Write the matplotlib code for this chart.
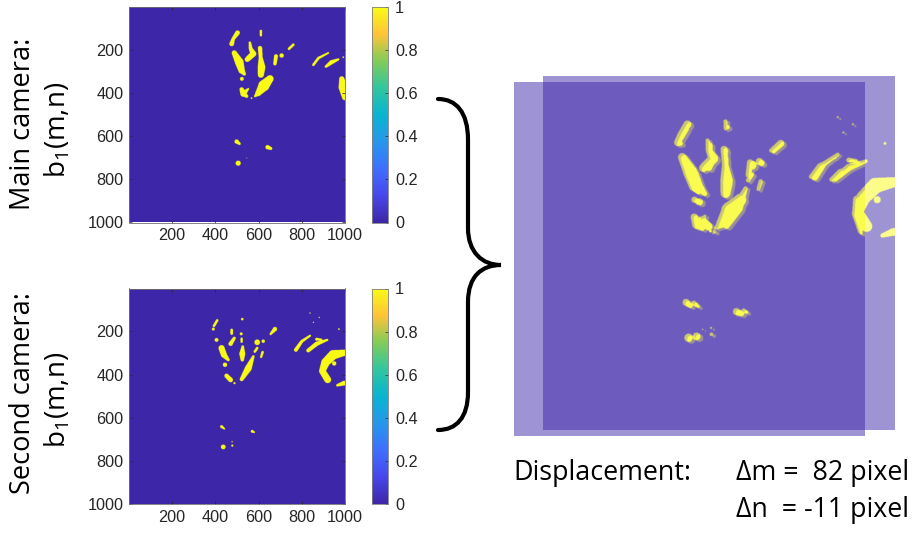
import numpy as np
import matplotlib
matplotlib.use('Agg')
import matplotlib.pyplot as plt
from matplotlib.colors import LinearSegmentedColormap
from matplotlib.path import Path
from matplotlib.patches import PathPatch

W, H = 915, 533
plt.rcParams['mathtext.default'] = 'regular'

tick_values = [200, 400, 600, 800, 1000]
cbar_ticks = [0, 0.2, 0.4, 0.6, 0.8, 1]
cbar_labels = ['0', '0.2', '0.4', '0.6', '0.8', '1']

# Bright regions of each binary map, each a chain of (m, n, radius)
main_blobs = [
    [(503, 125, 11), (483, 153, 8), (476, 176, 11)],
    [(611, 117, 6), (611, 137, 5)],
    [(488, 218, 12), (511, 261, 20), (522, 299, 15), (534, 315, 8)],
    [(523, 338, 9)],
    [(560, 171, 6), (564, 199, 9), (576, 222, 14), (548, 248, 12)],
    [(607, 196, 10), (610, 238, 9), (614, 284, 18), (611, 319, 14)],
    [(653, 338, 17), (625, 369, 26), (599, 404, 14), (584, 418, 5)],
    [(522, 387, 10), (530, 407, 14), (553, 384, 4)],
    [(530, 407, 12), (545, 418, 8)],
    [(568, 427, 4)],
    [(707, 230, 10)],
    [(681, 233, 9), (676, 268, 8)],
    [(761, 180, 6), (741, 199, 6)],
    [(923, 218, 4), (877, 242, 6), (854, 273, 6)],
    [(969, 248, 5), (938, 261, 10), (912, 281, 6)],
    [(992, 238, 4)],
    [(985, 338, 12), (992, 376, 22), (1000, 423, 14)],
    [(499, 628, 10), (512, 638, 6)],
    [(642, 654, 10), (657, 660, 7)],
    [(506, 728, 12)],
    [(546, 704, 2)],
]
second_blobs = [
    [(409, 151, 6), (394, 176, 6)],
    [(391, 191, 7)],
    [(525, 145, 6)],
    [(476, 195, 6), (476, 212, 6)],
    [(520, 213, 7)],
    [(406, 241, 9)],
    [(429, 279, 14), (440, 310, 14), (460, 333, 7)],
    [(445, 356, 10)],
    [(488, 233, 7), (471, 259, 10)],
    [(522, 235, 5), (522, 250, 5)],
    [(527, 272, 6), (525, 305, 14), (525, 333, 8)],
    [(594, 252, 13)],
    [(622, 247, 8)],
    [(594, 279, 6), (583, 295, 6)],
    [(619, 298, 6), (612, 320, 5)],
    [(676, 191, 10), (656, 214, 5)],
    [(576, 318, 6), (553, 372, 16), (522, 423, 9)],
    [(452, 407, 10), (471, 426, 11)],
    [(489, 441, 5)],
    [(838, 222, 5), (800, 248, 7), (773, 287, 9)],
    [(918, 241, 5), (869, 259, 10), (830, 290, 9)],
    [(869, 238, 7), (890, 240, 5)],
    [(972, 191, 4)],
    [(838, 117, 3)],
    [(881, 137, 3)],
    [(854, 160, 3)],
    [(1000, 300, 14), (945, 310, 22), (910, 345, 20), (895, 385, 15), (920, 425, 16)],
    [(950, 350, 10)],
    [(996, 441, 11), (965, 451, 6)],
    [(429, 642, 7), (442, 652, 4)],
    [(571, 664, 7), (580, 668, 4)],
    [(437, 736, 11)],
    [(479, 730, 5)],
    [(478, 712, 3)],
]

parula = LinearSegmentedColormap.from_list('parula', [
    (0.2422, 0.1504, 0.6603), (0.2803, 0.2782, 0.9221), (0.2440, 0.4358, 0.9988),
    (0.1540, 0.5902, 0.9218), (0.0297, 0.7082, 0.8163), (0.1938, 0.7758, 0.6251),
    (0.5044, 0.7993, 0.3480), (0.9990, 0.7653, 0.2164), (0.9769, 0.9839, 0.0805)])


def make_map(blobs):
    # paint the chains on a 1000x1000 binary map
    mm, nn = np.meshgrid(np.arange(1, 1001), np.arange(1, 1001))
    img = np.zeros((1000, 1000))
    for chain in blobs:
        if len(chain) == 1:
            chain = chain * 2
        for (x0, y0, r0), (x1, y1, r1) in zip(chain[:-1], chain[1:]):
            dx, dy = x1 - x0, y1 - y0
            t = np.clip(((mm - x0) * dx + (nn - y0) * dy) / max(dx * dx + dy * dy, 1), 0, 1)
            d = np.hypot(mm - x0 - t * dx, nn - y0 - t * dy)
            img[d <= r0 + t * (r1 - r0)] = 1
    return img


def px_axes(x0, y0, x1, y1, **kw):
    # axes from reference pixel box (y measured from the top)
    return fig.add_axes([x0 / W, 1 - y1 / H, (x1 - x0) / W, (y1 - y0) / H], **kw)


def draw_panel(img, top):
    ax = px_axes(129, top, 345, top + 215.5)
    im = ax.imshow(img, cmap=parula, vmin=0, vmax=1, extent=[0.5, 1000.5, 1000.5, 0.5], aspect='auto')
    ax.set_xticks(tick_values)
    ax.set_yticks(tick_values)
    ax.set_xlim(1, 1000)
    ax.set_ylim(1000, 1)
    ax.tick_params(direction='in', length=2, width=0.5, color='#262626', labelcolor='#262626',
                   labelsize=11.7, pad=4, top=True, right=True, labelfontfamily='Liberation Sans')
    for s in ax.spines.values():
        s.set_linewidth(0.6)
        s.set_color('#707070')
    cax = px_axes(372, top, 388, top + 215.5)
    cb = fig.colorbar(im, cax=cax, ticks=cbar_ticks)
    cb.ax.set_yticklabels(cbar_labels)
    cb.ax.tick_params(direction='in', length=2, width=0.5, color='#262626', labelcolor='#262626',
                      labelsize=11.7, pad=5, labelfontfamily='Liberation Sans')
    cb.outline.set_linewidth(0.6)
    cb.outline.set_edgecolor('#808080')


fig = plt.figure(figsize=(W / 100, H / 100), dpi=100)

main_map = make_map(main_blobs)
second_map = make_map(second_blobs)
draw_panel(main_map, 7)
draw_panel(second_map, 288.5)

# register both maps on a bigger canvas, the overlay shows them as one pattern
reg = np.zeros((1200, 1200))
reg[100:1100, 100:1100] = main_map
reg[88:1088, 192:1192] = np.maximum(reg[88:1088, 192:1192], second_map)
layer_main = reg[100:1100, 100:1100]
layer_second = reg[88:1088, 192:1192]

# the two layers laid over each other, half transparent
for img, box in [(layer_main, (514, 82, 865, 436)), (layer_second, (543, 76, 895, 430))]:
    ov = px_axes(*box)
    ov.patch.set_alpha(0)
    ov.imshow(img, cmap=parula, vmin=0, vmax=1, alpha=0.5, aspect='auto', interpolation='bilinear')
    ov.axis('off')

# full figure layer in pixels for the brace and the slide text
top = px_axes(0, 0, W, H)
top.set_xlim(0, W)
top.set_ylim(H, 0)
top.axis('off')
top.patch.set_alpha(0)

brace = Path(
    [(438, 99), (456, 99), (468, 112), (468, 140), (468, 228), (468, 252), (482, 265), (501, 265),
     (482, 265), (468, 276), (468, 302), (468, 392), (468, 418), (456, 430), (438, 430)],
    [Path.MOVETO, Path.CURVE4, Path.CURVE4, Path.CURVE4, Path.LINETO, Path.CURVE4, Path.CURVE4, Path.CURVE4,
     Path.CURVE4, Path.CURVE4, Path.CURVE4, Path.LINETO, Path.CURVE4, Path.CURVE4, Path.CURVE4])
top.add_patch(PathPatch(brace, fill=False, edgecolor='black', linewidth=3, capstyle='round'))

font = 'Open Sans'
top.text(23, 124, 'Main camera:', rotation=90, ha='center', va='center', fontsize=19.5, family=font)
top.text(58, 130, 'b$_1$(m,n)', rotation=90, ha='center', va='center', fontsize=20, family=font)
top.text(23, 393, 'Second camera:', rotation=90, ha='center', va='center', fontsize=19.5, family=font)
top.text(58, 400, 'b$_1$(m,n)', rotation=90, ha='center', va='center', fontsize=20, family=font)
top.text(513, 473, 'Displacement:', ha='left', va='center', fontsize=19.4, family=font)
top.text(736, 473, 'Δm =  82 pixel', ha='left', va='center', fontsize=19.3, family=font)
top.text(736, 510, 'Δn  = -11 pixel', ha='left', va='center', fontsize=19.3, family=font)

fig.savefig('out.png', dpi=100)
